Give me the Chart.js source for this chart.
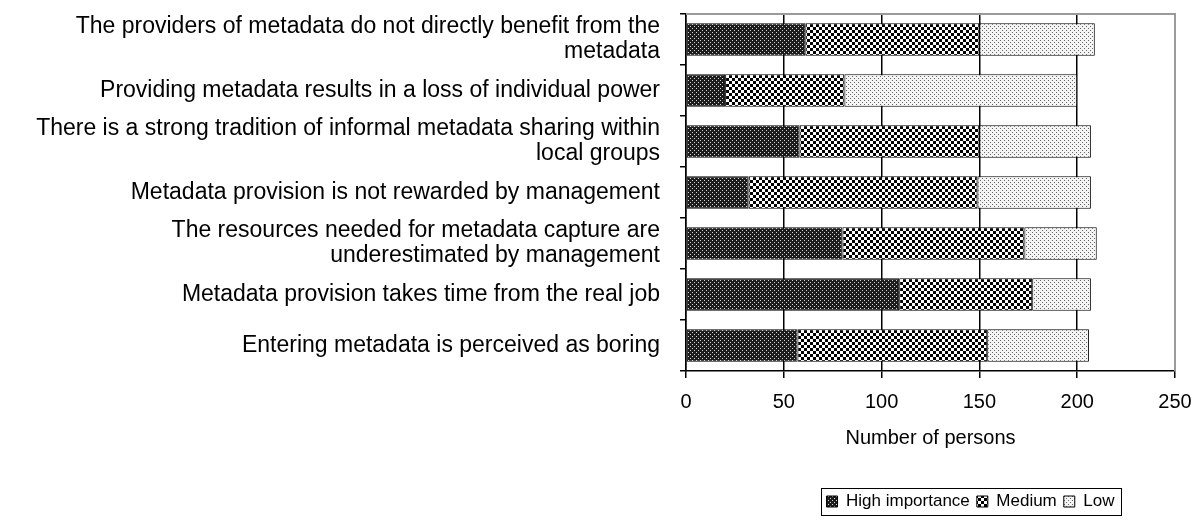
<!DOCTYPE html>
<html>
<head>
<meta charset="utf-8">
<script src="https://cdn.jsdelivr.net/npm/chart.js@4/dist/chart.umd.min.js"></script>
<style>
html,body{margin:0;padding:0;background:#fff;}
#wrap{width:1200px;height:525px;position:relative;}
</style>
</head>
<body>
<div id="wrap"><canvas id="c" width="1200" height="525"></canvas></div>
<script>
const categories = [
  ["The providers of metadata do not directly benefit from the", "metadata"],
  "Providing metadata results in a loss of individual power",
  ["There is a strong tradition of informal metadata sharing within", "local groups"],
  "Metadata provision is not rewarded by management",
  ["The resources needed for metadata capture are", "underestimated by management"],
  "Metadata provision takes time from the real job",
  "Entering metadata is perceived as boring"
];
const seriesNames = ["High importance", "Medium", "Low"];
const highValues = [61, 20, 58, 32, 80, 109, 57];
const mediumValues = [89, 61, 92, 117, 93, 68, 97];
const lowValues = [59, 119, 57, 58, 37, 30, 52];
const xTicks = [0, 50, 100, 150, 200, 250];
const xTitle = "Number of persons";

function makePattern(kind) {
  const c = document.createElement('canvas');
  const ctx = c.getContext('2d');
  if (kind === 'high') {
    c.width = 4; c.height = 4;
    ctx.fillStyle = '#1c1c1c'; ctx.fillRect(0, 0, 4, 4);
    ctx.fillStyle = '#d8d8d8';
    ctx.fillRect(0, 0, 1, 1); ctx.fillRect(2, 2, 1, 1);
  } else if (kind === 'medium') {
    c.width = 6; c.height = 6;
    ctx.fillStyle = '#fff'; ctx.fillRect(0, 0, 6, 6);
    ctx.fillStyle = '#000';
    ctx.fillRect(0, 0, 3, 3); ctx.fillRect(3, 3, 3, 3);
  } else {
    c.width = 4; c.height = 4;
    ctx.fillStyle = '#f4f4f4'; ctx.fillRect(0, 0, 4, 4);
    ctx.fillStyle = '#666';
    ctx.fillRect(0, 0, 1, 1); ctx.fillRect(2, 2, 1, 1);
  }
  return document.getElementById('c').getContext('2d').createPattern(c, 'repeat');
}

const patterns = [makePattern('high'), makePattern('medium'), makePattern('low')];
const seriesValues = [highValues, mediumValues, lowValues];

const LEGEND_SHIFT = 40;

const framePlugin = {
  id: 'frame',
  afterLayout(chart) {
    const lg = chart.legend;
    if (lg) { lg.left += LEGEND_SHIFT; lg.right += LEGEND_SHIFT; }
  },
  afterDatasetsDraw(chart) {
    const {ctx, chartArea: a} = chart;
    ctx.save();
    ctx.strokeStyle = '#9a9a9a';
    ctx.lineWidth = 2;
    ctx.beginPath();
    ctx.moveTo(a.left, a.top);
    ctx.lineTo(a.right, a.top);
    ctx.lineTo(a.right, a.bottom);
    ctx.stroke();
    ctx.restore();
  },
  afterDraw(chart) {
    const lg = chart.legend;
    if (!lg || !lg.legendHitBoxes || !lg.legendHitBoxes.length) return;
    const hb = lg.legendHitBoxes;
    let l = Infinity, r = -Infinity, t = Infinity, b = -Infinity;
    hb.forEach(h => { l = Math.min(l, h.left); r = Math.max(r, h.left + h.width); t = Math.min(t, h.top); b = Math.max(b, h.top + h.height); });
    const ctx = chart.ctx;
    ctx.save();
    ctx.strokeStyle = '#000';
    ctx.lineWidth = 1;
    ctx.strokeRect(Math.round(l - 6) + 0.5, Math.round(t - 5) + 0.5, Math.round(r - l + 12), Math.round(b - t + 10));
    ctx.restore();
  }
};

new Chart(document.getElementById('c'), {
  type: 'bar',
  data: {
    labels: categories,
    datasets: seriesNames.map((n, i) => ({
      label: n,
      data: seriesValues[i],
      backgroundColor: patterns[i],
      borderColor: '#000',
      borderWidth: 1,
      borderSkipped: false,
      barPercentage: 0.64,
      categoryPercentage: 1.0
    }))
  },
  options: {
    indexAxis: 'y',
    responsive: false,
    animation: false,
    devicePixelRatio: 1,
    layout: { padding: { top: 14, right: 25, left: 0, bottom: 5 } },
    plugins: {
      legend: {
        position: 'bottom',
        fullSize: false,
        align: 'center',
        labels: {
          boxWidth: 11,
          boxHeight: 11,
          padding: 7,
          color: '#000',
          font: { family: 'Liberation Sans, Arial, sans-serif', size: 17 }
        }
      },
      tooltip: { enabled: false }
    },
    scales: {
      x: {
        stacked: true,
        min: 0,
        max: 250,
        afterBuildTicks(scale) { scale.ticks = xTicks.map(v => ({ value: v })); },
        afterFit(scale) { scale.height = 115; scale.paddingLeft = 0; scale.paddingRight = 0; },
        ticks: {
          color: '#000',
          padding: 12,
          font: { family: 'Liberation Sans, Arial, sans-serif', size: 20 }
        },
        grid: {
          color: (ctx) => (ctx.tick && ctx.tick.value === 250) ? '#9a9a9a' : '#000',
          lineWidth: 1.5,
          tickLength: 7,
          tickColor: '#000'
        },
        border: { color: '#000', width: 1.5 },
        title: {
          display: true,
          text: xTitle,
          color: '#000',
          padding: { top: 4, bottom: 36 },
          font: { family: 'Liberation Sans, Arial, sans-serif', size: 20 }
        }
      },
      y: {
        stacked: true,
        afterFit(scale) { scale.width = 686; scale.paddingTop = 0; scale.paddingBottom = 0; },
        ticks: {
          color: '#000',
          padding: 20,
          autoSkip: false,
          font: { family: 'Liberation Sans, Arial, sans-serif', size: 23, lineHeight: 1.08 }
        },
        grid: {
          drawOnChartArea: false,
          offset: true,
          tickLength: 6,
          color: '#000',
          lineWidth: 1.5
        },
        border: { color: '#000', width: 1.5 }
      }
    }
  },
  plugins: [framePlugin]
});
</script>
</body>
</html>
